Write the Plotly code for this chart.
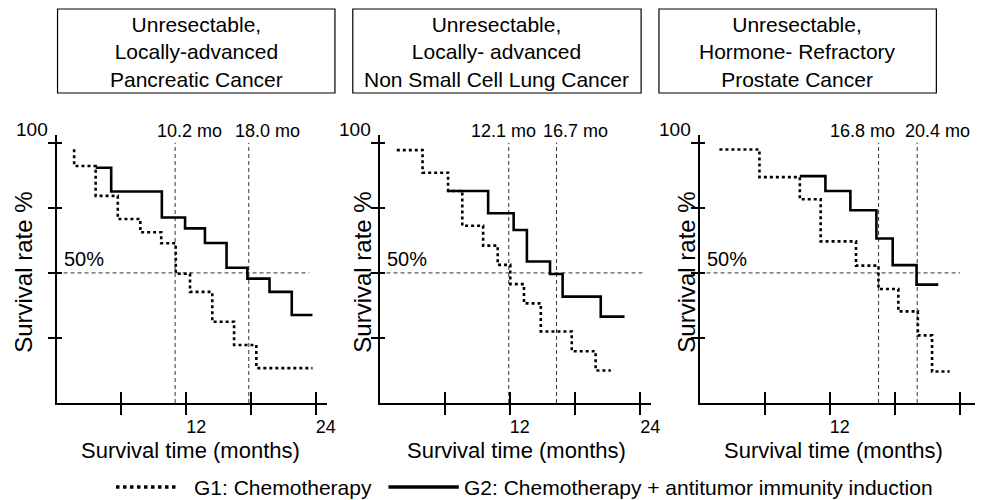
import plotly.graph_objects as go

# ---------------- data ----------------
panel_titles = [
    "Unresectable,<br>Locally-advanced<br>Pancreatic Cancer",
    "Unresectable,<br>Locally- advanced<br>Non Small Cell Lung Cancer",
    "Unresectable,<br>Hormone- Refractory<br>Prostate Cancer",
]

# G1: Chemotherapy (dotted) - step change times (months) and survival (%)
g1_time_pancreas = [1.63, 1.63, 3.62, 5.67, 7.76, 9.69, 11.04, 12.36, 14.42, 16.44, 18.5, 23.7]
g1_surv_pancreas = [97.5, 91.1, 79.6, 70.7, 65.6, 61.4, 49.7, 42.7, 31.2, 22.3, 13.4, 13.4]
g2_time_pancreas = [3.62, 5.06, 9.75, 11.9, 13.74, 15.74, 17.67, 19.72, 21.78, 23.7]
g2_surv_pancreas = [90.4, 81.3, 71.3, 67.1, 61.5, 52.0, 47.8, 42.7, 33.8, 33.8]

g1_time_lung = [1.59, 3.96, 6.31, 7.62, 9.54, 10.88, 12.04, 13.3, 14.85, 17.7, 19.9, 21.3]
g1_surv_lung = [97.2, 88.5, 81.5, 68.1, 60.5, 53.1, 45.7, 38.3, 27.5, 19.9, 12.5, 12.5]
g2_time_lung = [6.31, 10.0, 12.35, 13.57, 15.7, 16.86, 20.37, 22.56]
g2_surv_lung = [81.5, 72.9, 66.5, 54.4, 49.6, 40.9, 33.2, 33.2]

g1_time_prostate = [1.83, 5.52, 9.24, 11.16, 14.42, 16.49, 18.32, 20.12, 21.43, 23.05]
g1_surv_prostate = [97.4, 86.8, 78.3, 62.1, 52.8, 43.8, 35.2, 26.0, 12.1, 12.1]
g2_time_prostate = [9.24, 11.6, 13.9, 16.3, 17.8, 20.0, 22.0]
g2_surv_prostate = [87.2, 81.5, 74.1, 63.2, 53.0, 45.5, 45.5]

# median survival markers: where the dashed lines are drawn, and their labels
median_lines_pancreas = [10.98, 17.8]
median_lines_lung = [11.9, 16.3]
median_lines_prostate = [16.5, 20.06]
median_labels_pancreas = ["10.2 mo", "18.0 mo"]
median_labels_lung = ["12.1 mo", "16.7 mo"]
median_labels_prostate = ["16.8 mo", "20.4 mo"]
median_label_pos_pancreas = [12.3, 19.5]
median_label_pos_lung = [11.4, 18.0]
median_label_pos_prostate = [15.0, 21.9]
half_line_end = [23.4, 24.2, 24.0]

x_tickvals = [6, 12, 18, 24]
x_ticktext_12_24 = ["", "12", "", "24"]
x_ticktext_12 = ["", "12", "", ""]
y_tickvals = [25, 50, 75, 100]

legend_g1 = "G1: Chemotherapy"
legend_g2 = "G2: Chemotherapy + antitumor immunity induction"
x_title = "Survival time (months)"
y_title = "Survival rate %"

# ---------------- layout helpers ----------------
# the page body has an 8px margin, so the figure starts at page pixel (8, 8)
OFF = 8
W, H = 985 - OFF, 500 - OFF
FONT = "Arial, Liberation Sans, sans-serif"
BLACK = "black"

def px_x(p):
    return (p - OFF) / W

def px_y(p):
    return (H - (p - OFF)) / H

panels = [
    dict(g1=(g1_time_pancreas, g1_surv_pancreas), g2=(g2_time_pancreas, g2_surv_pancreas),
         med=median_lines_pancreas, lab=median_labels_pancreas, labpos=median_label_pos_pancreas,
         ticktext=x_ticktext_12_24, x0=57, pxm=10.9, xmax=25.0,
         box=(58, 338), ytitle_x=23, xtitle_x=192),
    dict(g1=(g1_time_lung, g1_surv_lung), g2=(g2_time_lung, g2_surv_lung),
         med=median_lines_lung, lab=median_labels_lung, labpos=median_label_pos_lung,
         ticktext=x_ticktext_12_24, x0=383, pxm=10.96, xmax=25.0,
         box=(356, 647), ytitle_x=365, xtitle_x=521),
    dict(g1=(g1_time_prostate, g1_surv_prostate), g2=(g2_time_prostate, g2_surv_prostate),
         med=median_lines_prostate, lab=median_labels_prostate, labpos=median_label_pos_prostate,
         ticktext=x_ticktext_12, x0=706, pxm=10.95, xmax=25.4,
         box=(665, 945), ytitle_x=692, xtitle_x=841),
]

Y_BOTTOM_PX, Y_TOP_PX = 403, 135
YMAX = 103
ydom = [px_y(Y_BOTTOM_PX), px_y(Y_TOP_PX)]
BOX_TOP_PX, BOX_BOTTOM_PX = 9, 93

fig = go.Figure()
layout = dict(
    width=W, height=H, margin=dict(l=0, r=0, t=0, b=0), autosize=False,
    paper_bgcolor="white", plot_bgcolor="rgba(0,0,0,0)",
    showlegend=False, font=dict(family=FONT, color=BLACK),
)
shapes = []
annotations = []

for i, p in enumerate(panels):
    n = i + 1
    xs = "" if n == 1 else str(n)
    ov = str(n + 3)
    xdom = [px_x(p["x0"]), min(1.0, px_x(p["x0"] + p["pxm"] * p["xmax"]))]
    xname, yname = "x" + xs, "y" + xs

    # main axes
    layout["xaxis" + xs] = dict(
        domain=xdom, range=[0, p["xmax"]], anchor=yname,
        showline=True, linecolor=BLACK, linewidth=2,
        showgrid=False, zeroline=False,
        tickmode="array", tickvals=x_tickvals, ticktext=p["ticktext"],
        ticks="outside", ticklen=10, tickwidth=1.5, tickcolor=BLACK,
        ticklabelshift=10, ticklabelstandoff=-4,
        tickfont=dict(size=18, family=FONT, color=BLACK),
        fixedrange=True,
    )
    layout["yaxis" + xs] = dict(
        domain=ydom, range=[0, YMAX], anchor=xname,
        showline=True, linecolor=BLACK, linewidth=2,
        showgrid=False, zeroline=False,
        tickmode="array", tickvals=y_tickvals, showticklabels=False,
        ticks="outside", ticklen=7, tickwidth=1.5, tickcolor=BLACK,
        fixedrange=True,
    )
    # overlay axes giving the inner half of the crossing tick marks
    layout["xaxis" + ov] = dict(
        domain=xdom, range=[0, p["xmax"]], anchor=yname, overlaying=xname, side="bottom",
        showline=False, showgrid=False, zeroline=False,
        tickmode="array", tickvals=x_tickvals, showticklabels=False,
        ticks="inside", ticklen=11, tickwidth=1.5, tickcolor=BLACK, fixedrange=True,
    )
    layout["yaxis" + ov] = dict(
        domain=ydom, range=[0, YMAX], anchor=xname, overlaying=yname, side="left",
        showline=False, showgrid=False, zeroline=False,
        tickmode="array", tickvals=y_tickvals, showticklabels=False,
        ticks="inside", ticklen=5, tickwidth=1.5, tickcolor=BLACK, fixedrange=True,
    )
    fig.add_trace(go.Scatter(x=[], y=[], xaxis="x" + ov, yaxis=yname, showlegend=False, hoverinfo="skip"))
    fig.add_trace(go.Scatter(x=[], y=[], xaxis=xname, yaxis="y" + ov, showlegend=False, hoverinfo="skip"))

    # survival curves
    t1, s1 = p["g1"]
    t2, s2 = p["g2"]
    fig.add_trace(go.Scatter(
        x=t1, y=s1, mode="lines", line=dict(shape="hv", color=BLACK, width=2.6, dash="dot"),
        xaxis=xname, yaxis=yname, name=legend_g1, cliponaxis=False, hoverinfo="skip"))
    fig.add_trace(go.Scatter(
        x=t2, y=s2, mode="lines", line=dict(shape="hv", color=BLACK, width=2.6),
        xaxis=xname, yaxis=yname, name=legend_g2, cliponaxis=False, hoverinfo="skip"))

    # reference lines
    shapes.append(dict(type="line", xref=xname, yref=yname, x0=0, x1=half_line_end[i], y0=50, y1=50,
                       line=dict(color="#333", width=1, dash="4px,3px"), layer="below"))
    for m in p["med"]:
        shapes.append(dict(type="line", xref=xname, yref=yname, x0=m, x1=m, y0=0, y1=100,
                           line=dict(color="#333", width=1, dash="4px,3px"), layer="below"))
    for lab, lx in zip(p["lab"], p["labpos"]):
        annotations.append(dict(text=lab, xref=xname, x=lx, yref="paper", y=px_y(131),
                                xanchor="center", yanchor="middle", showarrow=False,
                                font=dict(size=18, family=FONT, color=BLACK)))
    annotations.append(dict(text="100", xref=xname, x=0, xshift=-25, yref="paper", y=px_y(130),
                            xanchor="center", yanchor="middle", showarrow=False,
                            font=dict(size=19, family=FONT, color=BLACK)))
    annotations.append(dict(text="50%", xref=xname, x=0, xshift=5, yref=yname, y=50, yshift=1,
                            xanchor="left", yanchor="bottom", showarrow=False,
                            font=dict(size=20, family=FONT, color=BLACK)))
    # axis titles
    annotations.append(dict(text=y_title, xref="paper", x=px_x(p["ytitle_x"]), yref="paper", y=px_y(272),
                            textangle=-90, xanchor="center", yanchor="middle", showarrow=False,
                            font=dict(size=24, family=FONT, color=BLACK)))
    annotations.append(dict(text=x_title, xref="paper", x=px_x(p["xtitle_x"]), yref="paper", y=px_y(450),
                            xanchor="center", yanchor="middle", showarrow=False,
                            font=dict(size=22, family=FONT, color=BLACK)))
    # title box
    bx0, bx1 = p["box"]
    shapes.append(dict(type="rect", xref="paper", yref="paper", x0=px_x(bx0), x1=px_x(bx1),
                       y0=px_y(BOX_BOTTOM_PX), y1=px_y(BOX_TOP_PX),
                       line=dict(color=BLACK, width=1.2), fillcolor="white"))
    annotations.append(dict(text=panel_titles[i], xref="paper", x=px_x((bx0 + bx1) / 2), yref="paper",
                            y=px_y(52), xanchor="center", yanchor="middle", showarrow=False,
                            font=dict(size=21, family=FONT, color=BLACK)))

# legend (drawn manually to match the long line samples)
LEG_Y = px_y(487)
shapes.append(dict(type="line", xref="paper", yref="paper", x0=px_x(117), x1=px_x(178), y0=LEG_Y, y1=LEG_Y,
                   line=dict(color=BLACK, width=3.5, dash="3.5px,3.5px")))
shapes.append(dict(type="line", xref="paper", yref="paper", x0=px_x(392), x1=px_x(463), y0=LEG_Y, y1=LEG_Y,
                   line=dict(color=BLACK, width=3.5)))
annotations.append(dict(text=legend_g1, xref="paper", x=px_x(194), yref="paper", y=LEG_Y,
                        xanchor="left", yanchor="middle", showarrow=False,
                        font=dict(size=21, family=FONT, color=BLACK)))
annotations.append(dict(text=legend_g2, xref="paper", x=px_x(466), yref="paper", y=LEG_Y,
                        xanchor="left", yanchor="middle", showarrow=False,
                        font=dict(size=21, family=FONT, color=BLACK)))

layout["shapes"] = shapes
layout["annotations"] = annotations
fig.update_layout(**layout)
fig.write_html("out.html", config={"displayModeBar": False})
